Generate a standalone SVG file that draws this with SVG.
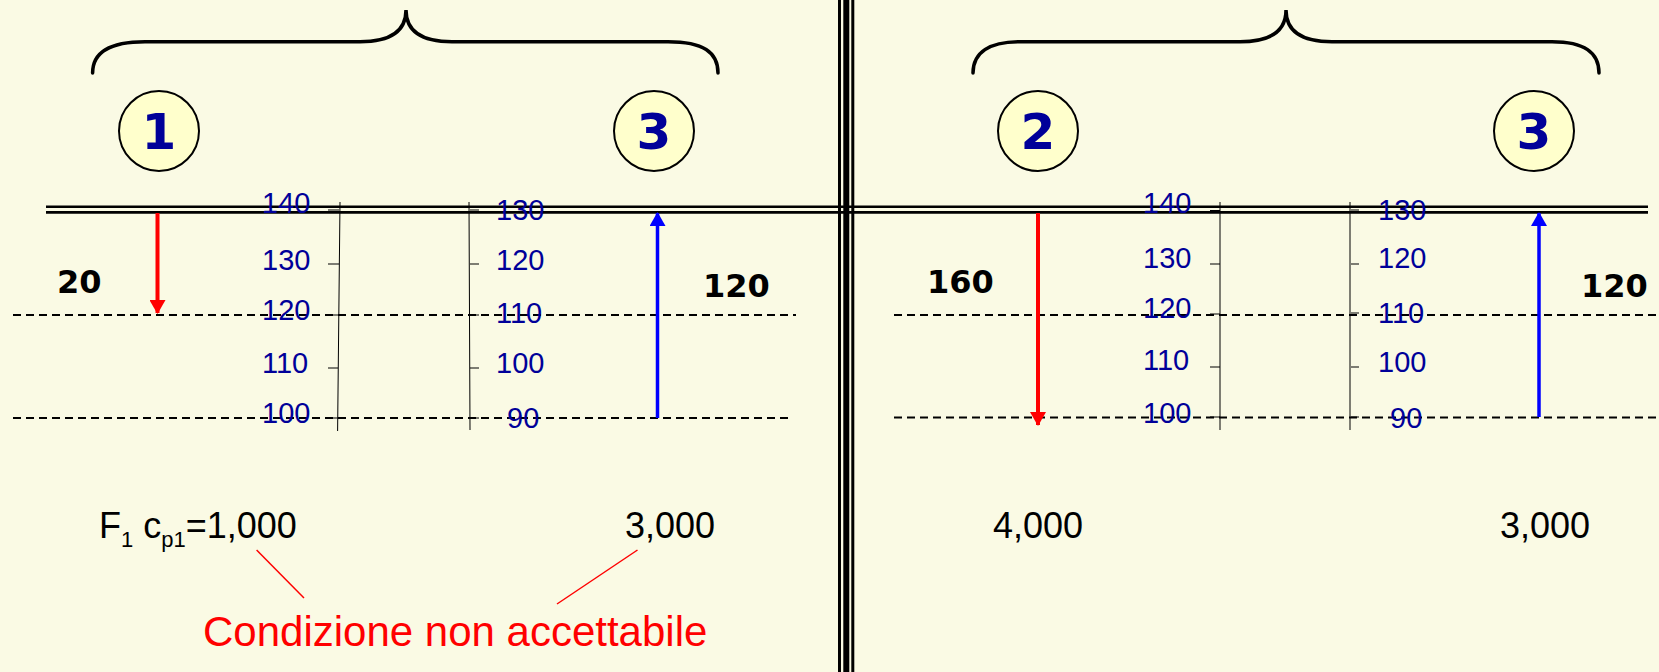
<svg xmlns="http://www.w3.org/2000/svg" width="1659" height="672" viewBox="0 0 1659 672">
<defs>
<style>
.brace{fill:none;stroke:#000;stroke-width:3.5;stroke-linecap:round}
.circ{fill:#FFFFCC;stroke:#000;stroke-width:2}
.cnum{font-family:"DejaVu Sans",Verdana,sans-serif;font-weight:bold;font-size:50px;fill:#000099;text-anchor:middle}
.big{font-family:"DejaVu Sans",Verdana,sans-serif;font-weight:bold;font-size:32px;fill:#000}
.scale{font-family:"Liberation Sans",Arial,sans-serif;font-size:29px;fill:#000099}
.val{font-family:"Liberation Sans",Arial,sans-serif;font-size:36px;fill:#000}
.note{font-family:"Liberation Sans",Arial,sans-serif;font-size:42px;fill:#FF0000}
.dash{stroke:#000;stroke-width:2;stroke-dasharray:8,5;fill:none}
.axis{stroke:#000;stroke-width:1;fill:none}
.tick{stroke:#000;stroke-width:1}
</style>
<marker id="headR" viewBox="0 0 14 16" refX="13" refY="8" markerWidth="14" markerHeight="16" markerUnits="userSpaceOnUse" orient="auto"><path d="M0,0 L14,8 L0,16 Z" fill="#FF0000"/></marker>
<marker id="headB" viewBox="0 0 14 16" refX="13" refY="8" markerWidth="14" markerHeight="16" markerUnits="userSpaceOnUse" orient="auto"><path d="M0,0 L14,8 L0,16 Z" fill="#0000FF"/></marker>
</defs>
<rect x="0" y="0" width="1659" height="672" fill="#FAFAE4"/>

<g id="frame">
<rect x="838" y="0" width="3" height="672" fill="#000"/>
<rect x="843.3" y="0" width="6" height="672" fill="#000"/>
<rect x="851.3" y="0" width="3" height="672" fill="#000"/>
<line x1="46" y1="206.8" x2="1648" y2="206.8" stroke="#000" stroke-width="2.6"/>
<line x1="46" y1="212.4" x2="1648" y2="212.4" stroke="#000" stroke-width="2.8"/>
</g>

<g id="braces">
<path class="brace" d="M92.6,73 C92.6,52 110,41.7 145,41.7 L360,41.7 C392,41.7 406,30 406,10 C406,30 420,41.7 452,41.7 L668,41.7 C703,41.7 718,52 718,73"/>
<path class="brace" d="M973,73 C973,52 990,41.7 1020,41.7 L1240,41.7 C1272,41.7 1286,30 1286,10 C1286,30 1300,41.7 1332,41.7 L1552,41.7 C1584,41.7 1599,52 1599,73"/>
</g>

<g id="node-1"><circle class="circ" cx="159" cy="131" r="40"/><text class="cnum" x="159" y="149">1</text></g>
<g id="node-3a"><circle class="circ" cx="654" cy="131" r="40"/><text class="cnum" x="654" y="149">3</text></g>
<g id="node-2"><circle class="circ" cx="1038" cy="131" r="40"/><text class="cnum" x="1038" y="149">2</text></g>
<g id="node-3b"><circle class="circ" cx="1534" cy="131" r="40"/><text class="cnum" x="1534" y="149">3</text></g>

<g id="levels">
<line class="dash" x1="13" y1="315" x2="796" y2="315"/>
<line class="dash" x1="13" y1="418" x2="791" y2="418"/>
<line class="dash" x1="894" y1="315" x2="1659" y2="315"/>
<line class="dash" x1="894" y1="417.5" x2="1659" y2="417.5"/>
</g>

<g id="scales-left">
<line class="axis" x1="340" y1="202" x2="337.6" y2="431"/>
<line class="tick" x1="328" y1="210" x2="339" y2="210"/>
<line class="tick" x1="328" y1="264" x2="339" y2="264"/>
<line class="tick" x1="328" y1="315" x2="339" y2="315"/>
<line class="tick" x1="328" y1="368" x2="338" y2="368"/>
<line class="tick" x1="328" y1="418" x2="338" y2="418"/>
<line class="axis" x1="469" y1="202" x2="470" y2="430" stroke="#333"/>
<line class="tick" x1="470" y1="210" x2="479" y2="210"/>
<line class="tick" x1="470" y1="264" x2="479" y2="264"/>
<line class="tick" x1="470" y1="315" x2="479" y2="315"/>
<line class="tick" x1="470" y1="368" x2="479" y2="368"/>
<line class="tick" x1="470" y1="418" x2="479" y2="418"/>
<text class="scale" x="262" y="213">140</text>
<text class="scale" x="262" y="270">130</text>
<text class="scale" x="262" y="320">120</text>
<text class="scale" x="262" y="373">110</text>
<text class="scale" x="262" y="423">100</text>
<text class="scale" x="496" y="220">130</text>
<text class="scale" x="496" y="270">120</text>
<text class="scale" x="496" y="323">110</text>
<text class="scale" x="496" y="373">100</text>
<text class="scale" x="507" y="428">90</text>
</g>

<g id="scales-right">
<line class="axis" x1="1220" y1="202" x2="1220" y2="430"/>
<line class="tick" x1="1210" y1="210.5" x2="1220" y2="210.5"/>
<line class="tick" x1="1210" y1="264" x2="1220" y2="264"/>
<line class="tick" x1="1210" y1="314" x2="1220" y2="314"/>
<line class="tick" x1="1210" y1="367" x2="1220" y2="367"/>
<line class="tick" x1="1210" y1="417" x2="1220" y2="417"/>
<line class="axis" x1="1350" y1="202" x2="1350" y2="430" stroke="#333"/>
<line class="tick" x1="1351" y1="210" x2="1359" y2="210"/>
<line class="tick" x1="1351" y1="264" x2="1359" y2="264"/>
<line class="tick" x1="1351" y1="313" x2="1359" y2="313"/>
<line class="tick" x1="1351" y1="367" x2="1359" y2="367"/>
<line class="tick" x1="1351" y1="417" x2="1359" y2="417"/>
<text class="scale" x="1143" y="213">140</text>
<text class="scale" x="1143" y="268">130</text>
<text class="scale" x="1143" y="318">120</text>
<text class="scale" x="1143" y="370">110</text>
<text class="scale" x="1143" y="423">100</text>
<text class="scale" x="1378" y="220">130</text>
<text class="scale" x="1378" y="268">120</text>
<text class="scale" x="1378" y="323">110</text>
<text class="scale" x="1378" y="372">100</text>
<text class="scale" x="1390" y="428">90</text>
</g>

<g id="connectors">
<line x1="157.5" y1="213" x2="157.5" y2="313" stroke="#FF0000" stroke-width="4" marker-end="url(#headR)"/>
<line x1="657.5" y1="418" x2="657.5" y2="213" stroke="#0000FF" stroke-width="3.5" marker-end="url(#headB)"/>
<line x1="1038" y1="213" x2="1038" y2="425" stroke="#FF0000" stroke-width="4" marker-end="url(#headR)"/>
<line x1="1539" y1="417" x2="1539" y2="213" stroke="#0000FF" stroke-width="3.5" marker-end="url(#headB)"/>
<line x1="256.6" y1="550" x2="304" y2="598" stroke="#FF0000" stroke-width="1.5"/>
<line x1="637.5" y1="550" x2="557" y2="604" stroke="#FF0000" stroke-width="1.5"/>
</g>

<g id="labels">
<text class="big" x="57" y="293">20</text>
<text class="big" x="703" y="297">120</text>
<text class="big" x="927" y="293">160</text>
<text class="big" x="1581" y="297">120</text>
<text class="val" x="99" y="538">F<tspan font-size="22" dy="9">1</tspan><tspan dy="-9"> c</tspan><tspan font-size="22" dy="9">p1</tspan><tspan dy="-9">=1,000</tspan></text>
<text class="val" x="625" y="538">3,000</text>
<text class="val" x="993" y="538">4,000</text>
<text class="val" x="1500" y="538">3,000</text>
<text class="note" x="203" y="646">Condizione non accettabile</text>
</g>
</svg>
